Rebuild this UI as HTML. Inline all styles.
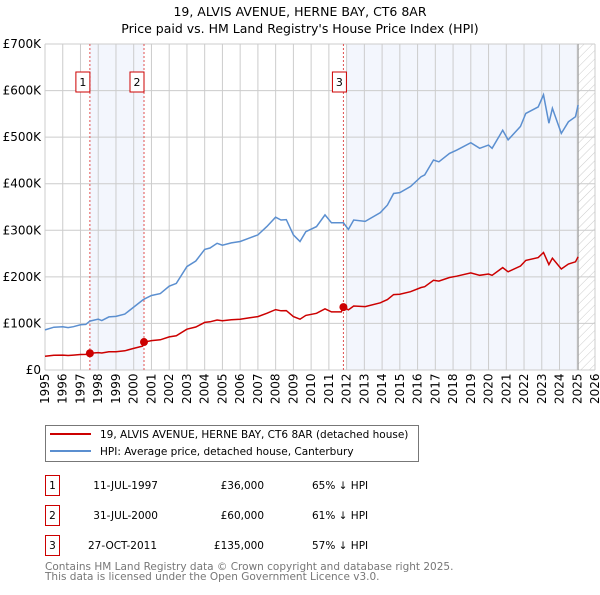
<!DOCTYPE html>
<html><head><meta charset="utf-8"><style>
body{margin:0;background:#fff;}
svg text{font-family:"DejaVu Sans","Liberation Sans",sans-serif;}
</style></head><body>
<svg id="c" width="600" height="590" xmlns="http://www.w3.org/2000/svg">
<text x="300" y="16" font-size="12.5" text-anchor="middle">19, ALVIS AVENUE, HERNE BAY, CT6 8AR</text>
<text x="300" y="33" font-size="12.5" text-anchor="middle">Price paid vs. HM Land Registry's House Price Index (HPI)</text>
<defs><pattern id="hatch" width="6" height="6" patternUnits="userSpaceOnUse" patternTransform="rotate(45)"><line x1="0" y1="0" x2="0" y2="6" stroke="#ccc" stroke-width="1"/></pattern></defs>
<g id="plot"></g>
<g>
<rect x="45.5" y="425.5" width="373" height="36" fill="#fff" stroke="#777"/>
<line x1="50" y1="434" x2="91" y2="434" stroke="#cc0000" stroke-width="2"/>
<text x="100" y="438" font-size="10.5">19, ALVIS AVENUE, HERNE BAY, CT6 8AR (detached house)</text>
<line x1="50" y1="451" x2="91" y2="451" stroke="#5b8fd0" stroke-width="2"/>
<text x="100" y="455" font-size="10.5">HPI: Average price, detached house, Canterbury</text>
</g>
<g font-size="10.5">
<rect x="45.5" y="475.5" width="14" height="20" fill="none" stroke="#cc0000"/><text x="52.5" y="489" text-anchor="middle">1</text>
<text x="158" y="489" text-anchor="end">11-JUL-1997</text><text x="264" y="489" text-anchor="end">£36,000</text><text x="312" y="489">65% ↓ HPI</text>
<rect x="45.5" y="505.5" width="14" height="20" fill="none" stroke="#cc0000"/><text x="52.5" y="519" text-anchor="middle">2</text>
<text x="158" y="519" text-anchor="end">31-JUL-2000</text><text x="264" y="519" text-anchor="end">£60,000</text><text x="312" y="519">61% ↓ HPI</text>
<rect x="45.5" y="535.5" width="14" height="20" fill="none" stroke="#cc0000"/><text x="52.5" y="549" text-anchor="middle">3</text>
<text x="157" y="549" text-anchor="end">27-OCT-2011</text><text x="264" y="549" text-anchor="end">£135,000</text><text x="312" y="549">57% ↓ HPI</text>
</g>
<text x="45" y="570" font-size="10.5" fill="#777">Contains HM Land Registry data © Crown copyright and database right 2025.</text>
<text x="45" y="580" font-size="10.5" fill="#777">This data is licensed under the Open Government Licence v3.0.</text>
</svg>
<script>
const hpiYears=[1995.0,1995.5,1996.0,1996.3,1996.6,1997.0,1997.3,1997.53,1998.0,1998.2,1998.6,1999.0,1999.5,2000.0,2000.5,2000.58,2001.0,2001.5,2002.0,2002.4,2003.0,2003.5,2004.0,2004.3,2004.7,2005.0,2005.5,2006.0,2006.5,2007.0,2007.5,2008.0,2008.3,2008.6,2009.0,2009.37,2009.7,2010.3,2010.78,2011.15,2011.7,2011.82,2012.1,2012.4,2013.05,2013.9,2014.3,2014.65,2015.0,2015.6,2016.2,2016.4,2016.9,2017.2,2017.8,2018.2,2019.0,2019.5,2020.0,2020.2,2020.8,2021.1,2021.8,2022.1,2022.8,2023.1,2023.4,2023.6,2024.1,2024.5,2024.9,2025.05];
const hpiValues=[86,92,93,91,93,97,98,105,109,106,114,115,120,135,150,152,160,164,180,186,222,234,259,262,272,268,273,276,283,290,308,328,322,323,290,276,297,308,333,316,316,316,302,322,319,338,354,379,381,394,415,419,451,447,465,472,488,476,483,476,515,494,523,551,565,591,530,562,508,533,544,569];
const propYears=[1995.0,1995.5,1996.0,1996.3,1996.6,1997.0,1997.3,1997.53,1998.0,1998.2,1998.6,1999.0,1999.5,2000.0,2000.5,2000.58,2001.0,2001.5,2002.0,2002.4,2003.0,2003.5,2004.0,2004.3,2004.7,2005.0,2005.5,2006.0,2006.5,2007.0,2007.5,2008.0,2008.3,2008.6,2009.0,2009.37,2009.7,2010.3,2010.78,2011.15,2011.7,2011.82,2012.1,2012.4,2013.05,2013.9,2014.3,2014.65,2015.0,2015.6,2016.2,2016.4,2016.9,2017.2,2017.8,2018.2,2019.0,2019.5,2020.0,2020.2,2020.8,2021.1,2021.8,2022.1,2022.8,2023.1,2023.4,2023.6,2024.1,2024.5,2024.9,2025.05];
const propValues=[29.5,31.6,31.9,31.2,31.9,33.3,33.6,36,37.4,36.4,39.1,39.4,41.2,46.3,51.4,60,63.2,64.8,71.1,73.5,87.7,92.4,102.3,103.5,107.4,105.9,107.8,109,111.8,114.6,121.7,129.6,127.2,127.6,114.6,109,117.3,121.7,131.5,124.8,124.8,135,129,137.5,136.2,144.3,151.2,161.8,162.7,168.2,177.2,178.9,192.6,190.9,198.6,201.5,208.4,203.3,206.2,203.3,219.9,210.9,223.3,235.3,241.3,252.4,226.3,240,216.9,227.6,232.3,243];
const saleYears=[1997.53,2000.58,2011.82];
const salePrices=[36,60,135];
const saleLabels=["1","2","3"];
const yTicks=[0,100,200,300,400,500,600,700];
const yTickLabels=["£0","£100K","£200K","£300K","£400K","£500K","£600K","£700K"];
const xTicks=[1995,1996,1997,1998,1999,2000,2001,2002,2003,2004,2005,2006,2007,2008,2009,2010,2011,2012,2013,2014,2015,2016,2017,2018,2019,2020,2021,2022,2023,2024,2025,2026];

const L=45,R=595,T=44,B=370,X0=1995,X1=2026,Ymax=700;
const xs=v=>L+(v-X0)/(X1-X0)*(R-L);
const ys=v=>B-v/Ymax*(B-T);
const NS="http://www.w3.org/2000/svg";
const g=document.getElementById('plot');
function mk(tag,attrs,parent){const e=document.createElementNS(NS,tag);for(const k in attrs)e.setAttribute(k,attrs[k]);(parent||g).appendChild(e);return e;}

let e;
e=mk('rect',{x:xs(saleYears[0]),y:T,width:xs(saleYears[1])-xs(saleYears[0]),height:B-T,fill:'#f3f6fd'});


e=mk('rect',{x:xs(2012),y:T,width:xs(2025.05)-xs(2012),height:B-T,fill:'#f3f6fd'});


e=mk('rect',{x:xs(2025.05),y:T,width:R-xs(2025.05),height:B-T,fill:'url(#hatch)'});



xTicks.forEach((t,i)=>{
  const l=mk('line',{x1:xs(t),x2:xs(t),y1:T,y2:B,stroke:'#ccc','stroke-width':1});
  
  
  const x=xs(t)+4;
  const tx=mk('text',{x:x,y:404,'font-size':12,'text-anchor':'start',transform:`rotate(-90 ${x} 404)`});
  tx.textContent=t;
  
  
});
yTicks.forEach((t,i)=>{
  const l=mk('line',{x1:L,x2:R,y1:ys(t),y2:ys(t),stroke:'#ccc','stroke-width':1});
  
  
  const tx=mk('text',{x:41,y:ys(t)+4,'font-size':12,'text-anchor':'end'});
  tx.textContent=yTickLabels[i];
  
  
});
e=mk('line',{x1:xs(2025.05),x2:xs(2025.05),y1:T,y2:B,stroke:'#999','stroke-width':1});



saleYears.forEach((y,i)=>{
  const l=mk('line',{x1:xs(y),x2:xs(y),y1:T,y2:B,stroke:'#e05050','stroke-width':1,'stroke-dasharray':'2,2'});
  
  
  const bx=xs(y)-(i==2?4:7);
  const r=mk('rect',{x:bx-7,y:72,width:14,height:20,fill:'#fff',stroke:'#cc0000'});
  
  
  const t=mk('text',{x:bx,y:86,'font-size':11,'text-anchor':'middle'});
  t.textContent=saleLabels[i];
  
  
});

function path(xa,va){return xa.map((x,i)=>(i?'L':'M')+xs(x).toFixed(1)+','+ys(va[i]).toFixed(1)).join('');}
e=mk('path',{d:path(hpiYears,hpiValues),fill:'none',stroke:'#5b8fd0','stroke-width':1.5});


e=mk('path',{d:path(propYears,propValues),fill:'none',stroke:'#cc0000','stroke-width':1.5});


saleYears.forEach((y,i)=>{
  const c=mk('circle',{cx:xs(y),cy:ys(salePrices[i]),r:4,fill:'#cc0000'});
  
  
});
</script>
</body></html>
